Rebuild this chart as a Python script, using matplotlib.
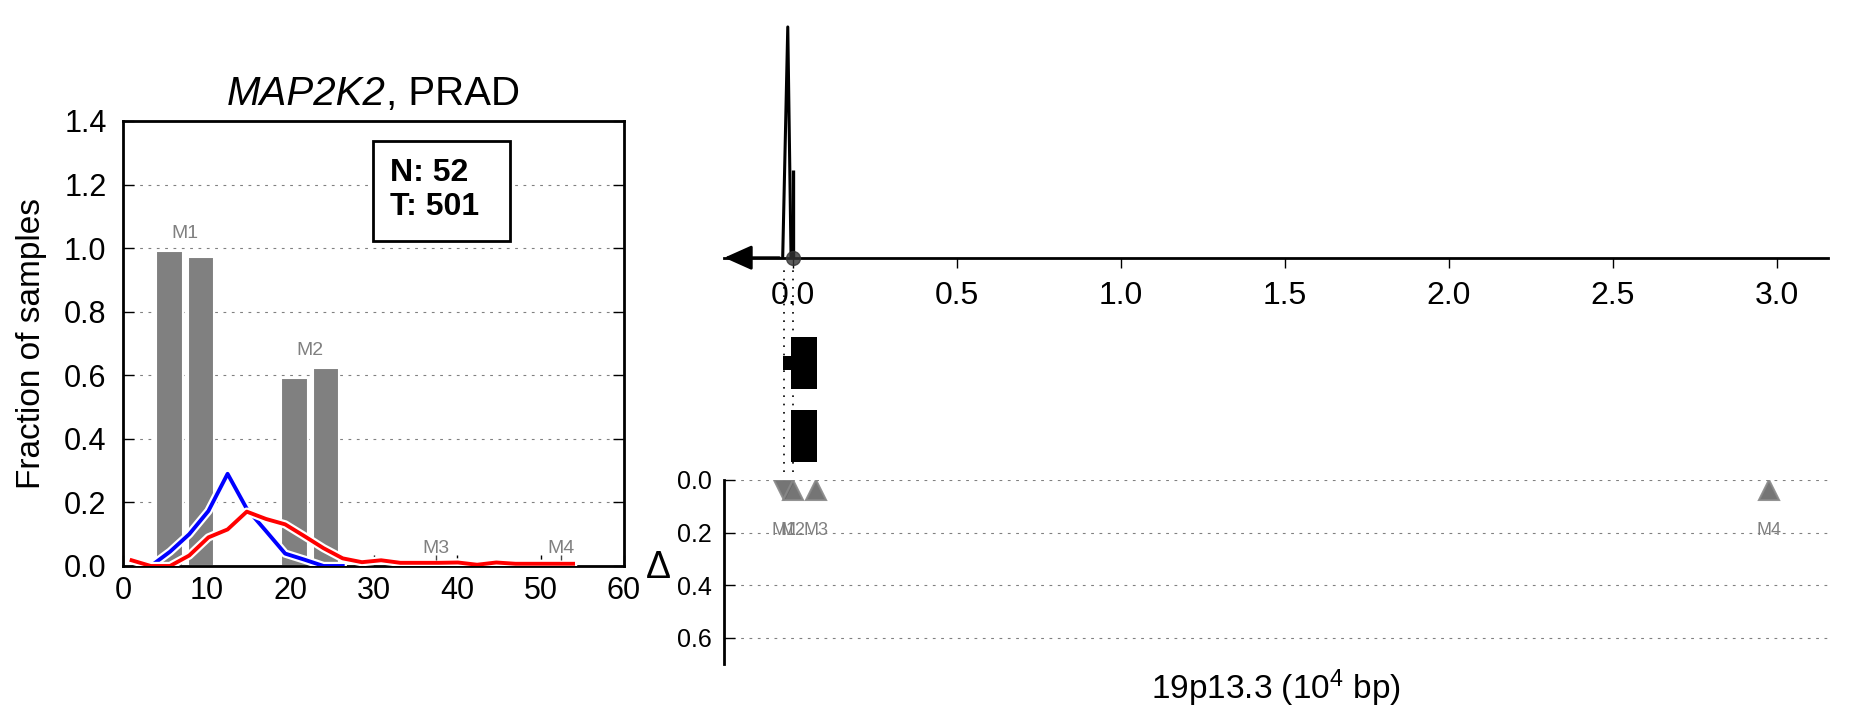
import numpy as np
import matplotlib.pyplot as plt
import matplotlib.patheffects as pe
from matplotlib.patches import Rectangle

plt.rcParams['font.family'] = ['Liberation Sans', 'DejaVu Sans']
plt.rcParams['mathtext.fontset'] = 'custom'
plt.rcParams['mathtext.rm'] = 'Liberation Sans'
plt.rcParams['mathtext.it'] = 'Liberation Sans:italic'

# ---- left panel: motif occupancy + position distributions ----
gene = 'MAP2K2'
cancer = 'PRAD'
motif_labels = ['M1', 'M2', 'M3', 'M4']
normal_pos = [5.5, 20.5, 35.6, 50.6]
tumor_pos = [9.3, 24.3, 39.3, 54.3]
normal_frac = [0.99, 0.59, 0.0, 0.0]
tumor_frac = [0.972, 0.622, 0.0, 0.0]

blue_x = [3.3, 5.6, 7.9, 10.2, 12.5, 14.8, 17.1, 19.4, 21.7, 24.0, 26.3]
blue_y = [0.0, 0.045, 0.1, 0.173, 0.29, 0.18, 0.11, 0.039, 0.02, 0.0, 0.0]
red_x = [1.0, 3.3, 5.6, 7.9, 10.2, 12.5, 14.8, 17.1, 19.4, 21.7, 24.0, 26.3,
         28.6, 30.9, 33.2, 35.5, 37.8, 40.1, 42.4, 44.7, 47.0, 49.3, 51.6, 53.9]
red_y = [0.018, 0.0, 0.0, 0.033, 0.09, 0.115, 0.171, 0.148, 0.131, 0.094, 0.056, 0.024,
         0.012, 0.018, 0.01, 0.01, 0.01, 0.011, 0.004, 0.011, 0.007, 0.007, 0.007, 0.007]
n_normal = 52
n_tumor = 501

# ---- right panel: genomic view ----
density_x = [-0.0305, -0.015, -0.005]
density_y = [0.0, 1.0, 0.0]
stem_x = [0.0]
stem_h = [0.38]
tss_x = 0.0
motif_x = [-0.028, 0.001, 0.07, 2.975]
motif_delta = [0.038, 0.038, 0.038, 0.038]
motif_dir = ['v', '^', '^', '^']
exon_rows = [0, 0, 1]
exon_start = [-0.004, -0.03, -0.004]
exon_end = [0.073, -0.004, 0.073]
exon_kind = ['cds', 'utr', 'cds']
delta_ticks = [0.0, 0.2, 0.4, 0.6]
pos_ticks = [0.0, 0.5, 1.0, 1.5, 2.0, 2.5, 3.0]

fig = plt.figure(figsize=(18.51, 7.18), dpi=100)

# left
ax = fig.add_axes([0.0666, 0.2117, 0.2705, 0.6198])
ax.set_axisbelow(True)
ax.bar(normal_pos, normal_frac, width=3.2, color='gray', edgecolor='white', linewidth=1.5, zorder=2)
ax.bar(tumor_pos, tumor_frac, width=3.2, color='gray', edgecolor='white', linewidth=1.5, zorder=2)
for i, lab in enumerate(motif_labels):
    mid = (normal_pos[i] + tumor_pos[i]) / 2.0
    top = max(normal_frac[i], tumor_frac[i])
    ax.text(mid, top + 0.028, lab, ha='center', va='bottom', fontsize=14, color='gray', zorder=4)
    if top == 0:
        ax.vlines(mid, 0.019, 0.036, color='#444444', lw=1, zorder=4)
stroke = [pe.Stroke(linewidth=6, foreground='white'), pe.Normal()]
ax.plot(blue_x, blue_y, color='blue', lw=2.8, path_effects=stroke, zorder=3)
ax.plot(red_x, red_y, color='red', lw=2.8, path_effects=stroke, zorder=3)
ax.set_xlim(0, 60)
ax.set_ylim(0, 1.4)
ax.set_xticks(np.arange(0, 61, 10))
ax.set_yticks(np.arange(0, 1.41, 0.2))
ax.set_yticklabels(['%.1f' % v for v in np.arange(0, 1.41, 0.2)])
ax.yaxis.grid(True, linestyle=(0, (2.5, 5)), color='gray', lw=0.8)
ax.tick_params(axis='x', direction='in', length=8, width=1, labelsize=22, pad=7)
ax.tick_params(axis='y', direction='in', length=8, width=1, labelsize=22, pad=12, right=True)
for s in ax.spines.values():
    s.set_linewidth(2)
ax.set_ylabel('Fraction of samples', fontsize=24, labelpad=12)
ax.add_patch(Rectangle((0.498, 0.731), 0.274, 0.225, transform=ax.transAxes,
                       facecolor='white', edgecolor='black', lw=2, zorder=5))
ax.text(0.533, 0.845, 'N: %d\nT: %d' % (n_normal, n_tumor), transform=ax.transAxes,
        ha='left', va='center', fontsize=23, fontweight='bold', zorder=6)

# title: italic gene name followed by upright cancer type, centred over the axes
t1 = ax.text(0.5, 1.0, gene, transform=ax.transAxes, fontsize=29, style='italic',
             ha='right', va='baseline')
t2 = ax.text(0.5, 1.0, ', ' + cancer, transform=ax.transAxes, fontsize=29,
             ha='left', va='baseline')
r = fig.canvas.get_renderer()
w1 = t1.get_window_extent(r).width
w2 = t2.get_window_extent(r).width
axw = ax.get_window_extent(r).width
split = 0.5 + (w1 - w2) / 2.0 / axw
title_y = 1.0 + 16.0 / ax.get_window_extent(r).height
t1.set_position((split, title_y))
t2.set_position((split, title_y))

xl = (-0.2085, 3.155)

# right top: density along the locus
ax_t = fig.add_axes([0.3913, 0.6411, 0.5961, 0.331])
ax_t.plot(density_x, density_y, color='black', lw=2.2)
ax_t.vlines(stem_x, 0, stem_h, color='black', lw=2.4)
ax_t.plot([tss_x], [0], 'o', ms=10, color='#333333', alpha=0.8, clip_on=False, zorder=4)
ax_t.set_xlim(xl)
ax_t.set_ylim(0, 1.03)
for s in ['top', 'right', 'left']:
    ax_t.spines[s].set_visible(False)
ax_t.spines['bottom'].set_linewidth(2)
ax_t.set_yticks([])
ax_t.set_xticks(pos_ticks)
ax_t.set_xticklabels(['%.1f' % v for v in pos_ticks])
ax_t.tick_params(axis='x', direction='out', length=7, width=1, labelsize=23, pad=10)
ax_t.annotate('', xy=(0, 0), xycoords='axes fraction', xytext=(0.05, 0),
              arrowprops=dict(arrowstyle='-|>,head_length=0.85,head_width=0.38', mutation_scale=20,
                              color='black', lw=2, shrinkA=0, shrinkB=0),
              annotation_clip=False)

# right middle: transcripts
ax_m = fig.add_axes([0.3913, 0.3315, 0.5961, 0.3096])
ax_m.set_xlim(xl)
ax_m.set_ylim(1.61, -1.45)
ax_m.axis('off')
for row, a, b, k in zip(exon_rows, exon_start, exon_end, exon_kind):
    h = 0.72 if k == 'cds' else 0.19
    ax_m.add_patch(Rectangle((a, row - h / 2), b - a, h, facecolor='black', edgecolor='none'))
for mx in motif_x[:2]:
    ax_m.axvline(mx, ymin=0.037, ymax=0.96, color='black', lw=1.2, linestyle=(0, (1, 4)))

# right bottom: delta per motif
ax_b = fig.add_axes([0.3913, 0.0748, 0.5961, 0.2567])
ax_b.set_xlim(xl)
ax_b.set_ylim(0.7, 0)
for s in ['top', 'right', 'bottom']:
    ax_b.spines[s].set_visible(False)
ax_b.spines['left'].set_linewidth(2)
ax_b.set_xticks([])
ax_b.set_yticks(delta_ticks)
ax_b.set_yticklabels(['%.1f' % v for v in delta_ticks])
ax_b.tick_params(axis='y', direction='in', length=8, width=1, labelsize=18, pad=9)
ax_b.yaxis.grid(True, linestyle=(0, (2.5, 5)), color='gray', lw=0.8)
for x, d, m, lab in zip(motif_x, motif_delta, motif_dir, motif_labels):
    ax_b.plot([x], [d], marker=m, ms=14, markerfacecolor='#666666', markeredgecolor='#888888',
              mew=1.5, alpha=0.9, linestyle='none', zorder=3)
    ax_b.text(x, 0.19, lab, ha='center', va='center', fontsize=13, color='gray')
ax_b.set_ylabel('Δ', rotation=0, fontsize=27, ha='center', va='center')
ax_b.yaxis.set_label_coords(-0.06, 0.52)
ax_b.set_xlabel('19p13.3 (10$^4$ bp)', fontsize=24)
ax_b.xaxis.set_label_coords(0.5, -0.02)

fig.savefig('out.png', dpi=100)
